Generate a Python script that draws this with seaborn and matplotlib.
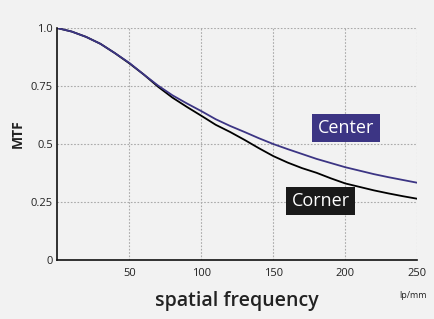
import matplotlib.pyplot as plt
import pandas as pd
import seaborn as sns

# === DATA === #
freq = [0, 10, 20, 30, 40, 50, 60, 70, 80, 90, 100, 110, 120, 130, 140, 150,
        160, 170, 180, 190, 200, 210, 220, 230, 240, 250]
center = [1.0, 0.985, 0.962, 0.932, 0.892, 0.85, 0.80, 0.752, 0.71, 0.675, 0.642,
          0.607, 0.578, 0.552, 0.525, 0.50, 0.478, 0.457, 0.436, 0.418, 0.40,
          0.385, 0.37, 0.357, 0.345, 0.333]
corner = [1.0, 0.985, 0.962, 0.932, 0.892, 0.848, 0.80, 0.747, 0.70, 0.66, 0.622,
          0.583, 0.552, 0.518, 0.482, 0.448, 0.42, 0.396, 0.376, 0.352, 0.33,
          0.315, 0.30, 0.287, 0.275, 0.264]
x_ticks = [50, 100, 150, 200, 250]
y_ticks = [0, 0.25, 0.5, 0.75, 1.0]
y_labels = ["0", "0.25", "0.5", "0.75", "1.0"]

# === SETUP === #
sns.set_theme(style="white")
plt.rcParams["font.family"] = ["Open Sans", "DejaVu Sans"]

BG = "#f2f2f2"
PURPLE = "#3c3584"

df = pd.DataFrame({"freq": freq, "Center": center, "Corner": corner})

fig = plt.figure(figsize=(4.34, 3.19), dpi=100, facecolor=BG)
ax = fig.add_axes([0.132, 0.185, 0.8295, 0.727])
ax.set_facecolor(BG)

sns.lineplot(data=df, x="freq", y="Corner", color="black", linewidth=1.3, ax=ax)
sns.lineplot(data=df, x="freq", y="Center", color=PURPLE, linewidth=1.3, ax=ax)

ax.set_xlim(0, 250)
ax.set_ylim(0, 1.0)
ax.set_xticks(x_ticks)
ax.set_yticks(y_ticks)
ax.set_yticklabels(y_labels)
ax.tick_params(axis="both", length=0, labelsize=8, labelcolor="#222222")
ax.tick_params(axis="y", pad=3)
ax.tick_params(axis="x", pad=6)
ax.grid(True, linestyle=(0, (1.5, 1.5)), color="#aaaaaa", linewidth=0.8)

for side in ["top", "right"]:
    ax.spines[side].set_visible(False)
for side in ["left", "bottom"]:
    ax.spines[side].set_color("#111111")
    ax.spines[side].set_linewidth(1.2)

ax.set_xlabel("")
ax.set_ylabel("")
fig.text(0.04, 0.58, "MTF", rotation=90, ha="center", va="center",
         fontsize=10, fontweight="bold", color="#222222")

fig.text(0.546, 0.055, "spatial frequency", ha="center", va="center",
         fontsize=14, fontweight="semibold", color="#222222")
fig.text(0.952, 0.075, "lp/mm", ha="center", va="center", fontsize=6.5, color="#222222")

ax.text(200.5, 0.569, "Center", ha="center", va="center", fontsize=13, color="white",
        bbox=dict(boxstyle="square,pad=0.3", facecolor=PURPLE, edgecolor="none"))
ax.text(183, 0.254, "Corner", ha="center", va="center", fontsize=13, color="white",
        bbox=dict(boxstyle="square,pad=0.3", facecolor="#1a1a1a", edgecolor="none"))

fig.savefig("out.png", dpi=100, facecolor=BG)
